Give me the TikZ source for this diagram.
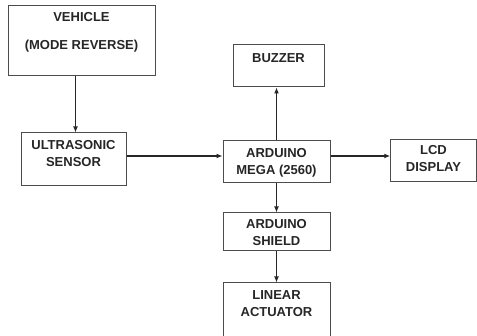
\documentclass[tikz,border=0pt]{standalone}
\usepackage{fontspec}
\setmainfont{Liberation Sans}
\usetikzlibrary{arrows.meta}

\begin{document}
\begin{tikzpicture}[
        x=1pt, y=1pt,
        block/.style = {draw=black!70, line width=1pt, inner sep=0pt, align=center, text=black!85,
                        font=\bfseries\fontsize{13}{17}\selectfont},
        arrow/.style = {-{Latex[length=6pt, width=5pt]}, line width=1.6pt, black!85},
    ]
        \clip (0,0) rectangle (477,-336);
        \fill[white] (0,0) rectangle (477,-336);
        \node[block, minimum width=147pt, text height=43.7pt, text depth=26.3pt] (vehicle) at (81.5,-41) {VEHICLE\\[11pt](MODE REVERSE)};
        \node[block, minimum width=105pt, text height=33.7pt, text depth=19.3pt] (ultra) at (73.5,-159.5) {ULTRASONIC\\SENSOR};
        \node[block, minimum width=107pt, text height=33.7pt, text depth=8.3pt] (mega) at (276.5,-162) {ARDUINO\\MEGA (2560)};
        \node[block, minimum width=91pt, text height=17.7pt, text depth=24.3pt] (buzzer) at (278.5,-66) {BUZZER};
        \node[block, minimum width=85.5pt, text height=31.7pt, text depth=10.3pt] (lcd) at (433.5,-161) {LCD\\DISPLAY};
        \node[block, minimum width=107pt, text height=32.7pt, text depth=5.3pt] (shield) at (276.5,-232) {ARDUINO\\SHIELD};
        \node[block, minimum width=107pt, text height=33.4pt, text depth=30pt] (actuator) at (276.5,-314.7) {LINEAR\\ACTUATOR};
        % arrows enter and leave the mega box a little above its middle
        \coordinate (megain) at ([yshift=6pt]mega.west);
        \coordinate (megaout) at ([yshift=6pt]mega.east);
        \draw[arrow] ([xshift=2pt]ultra.north |- vehicle.south) -- ([xshift=2pt]ultra.north);
        \draw[arrow] (ultra.east |- megain) -- (megain);
        \draw[arrow] (megaout) -- (megaout -| lcd.west);
        \draw[arrow] (mega.north) -- (buzzer.south -| mega.north);
        \draw[arrow] (mega.south) -- (shield.north);
        \draw[arrow] (shield.south) -- (actuator.north);
    \end{tikzpicture}
\end{document}
